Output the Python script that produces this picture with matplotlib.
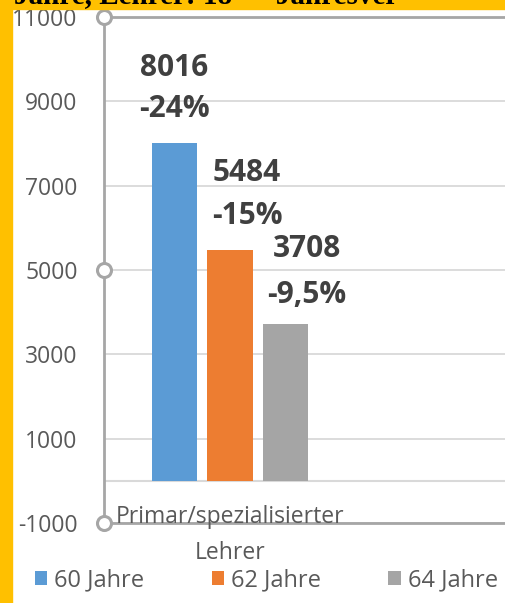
import matplotlib.pyplot as plt
from matplotlib.patches import Rectangle

# data
category = "Primar/spezialisierter\nLehrer"
series = ["60 Jahre", "62 Jahre", "64 Jahre"]
values = [8016, 5484, 3708]
changes = ["-24%", "-15%", "-9,5%"]
colors = ["#5B9BD5", "#ED7D31", "#A5A5A5"]

W, H = 506, 603
DPI = 100
PT = 72 / DPI  # points per pixel

plt.rcParams['font.family'] = ['Open Sans', 'DejaVu Sans']
plt.rcParams['axes.unicode_minus'] = False

fig = plt.figure(figsize=(W / DPI, H / DPI), dpi=DPI)
fig.patch.set_facecolor("white")

# plot area: left axis at x=104, top at y=17, bottom at y=523 (px)
ax_left, ax_right, ax_top, ax_bot = 104, 560, 17, 523
ax = fig.add_axes([ax_left / W, 1 - ax_bot / H,
                   (ax_right - ax_left) / W, (ax_bot - ax_top) / H])

px_per_unit = 252
ax.set_xlim(-0.5, -0.5 + (ax_right - ax_left) / px_per_unit)
ax.set_ylim(-1000, 11000)

# bars
step = 0.222
width = 0.179
offsets = [-step, 0, step]
bars = []
for off, v, c, name in zip(offsets, values, colors, series):
    b = ax.bar(off, v, width=width, color=c, label=name, zorder=3)
    bars.append(b[0])

# data labels (dragged a bit in the original)
label_dx = [0, 17, 21]
val_dy = [75, 77, 75]
pct_dy = [34, 34, 29]
for off, v, ch, dx, dv, dp in zip(offsets, values, changes, label_dx, val_dy, pct_dy):
    ax.annotate(str(v), (off, v), xytext=(dx * PT, dv * PT), textcoords="offset points",
                ha="center", va="center", fontsize=21.5, fontweight="bold",
                color="#404040", zorder=5)
    ax.annotate(ch, (off, v), xytext=(dx * PT, dp * PT), textcoords="offset points",
                ha="center", va="center", fontsize=21.5, fontweight="bold",
                color="#404040", zorder=5)

# gridlines and zero line
ax.set_yticks(range(-1000, 11001, 2000))
ax.yaxis.grid(True, color="#D9D9D9", lw=1.3, zorder=0)
ax.axhline(0, color="#D9D9D9", lw=1.5, zorder=1)
ax.set_xticks([])
ax.tick_params(axis="y", length=0, pad=19, labelsize=16.5, labelcolor="#595959")

# category label below the zero line
ax.annotate(category, (0, 0), xytext=(0, -24 * PT), textcoords="offset points",
            ha="center", va="top", fontsize=16.5, color="#595959", linespacing=1.7)

# selection frame
for s in ["top", "bottom", "left"]:
    ax.spines[s].set_color("#A6A6A6")
    ax.spines[s].set_linewidth(2)
ax.spines["right"].set_visible(False)
ax.plot([0, 0, 0], [1, 0.5, 0], transform=ax.transAxes, ls="none", marker="o",
        markersize=14 * PT, markerfacecolor="white", markeredgecolor="#A6A6A6",
        markeredgewidth=2.2, clip_on=False, zorder=10)

# legend
fig.legend(bars, series, loc="center left", bbox_to_anchor=(35 / W, 1 - 580 / H),
           ncol=3, frameon=False, fontsize=17, handlelength=0.52, handleheight=0.52,
           handletextpad=0.3, columnspacing=2.85, borderpad=0, borderaxespad=0,
           labelcolor="#595959")

# yellow slide border and clipped title above
fig.add_artist(Rectangle((0, 0), 12 / W, 1, transform=fig.transFigure,
                         color="#FFC000", zorder=20))
fig.add_artist(Rectangle((0, 1 - 9 / H), 1, 9 / H, transform=fig.transFigure,
                         color="#FFC000", zorder=20))
fig.text(14 / W, 1 - 3 / H, "Jahre, Lehrer: 18  \u2013  Jahresver", fontsize=21,
         fontweight="bold", family="Liberation Serif", color="black",
         va="baseline", ha="left", zorder=21)

fig.savefig("out.png", dpi=DPI)
